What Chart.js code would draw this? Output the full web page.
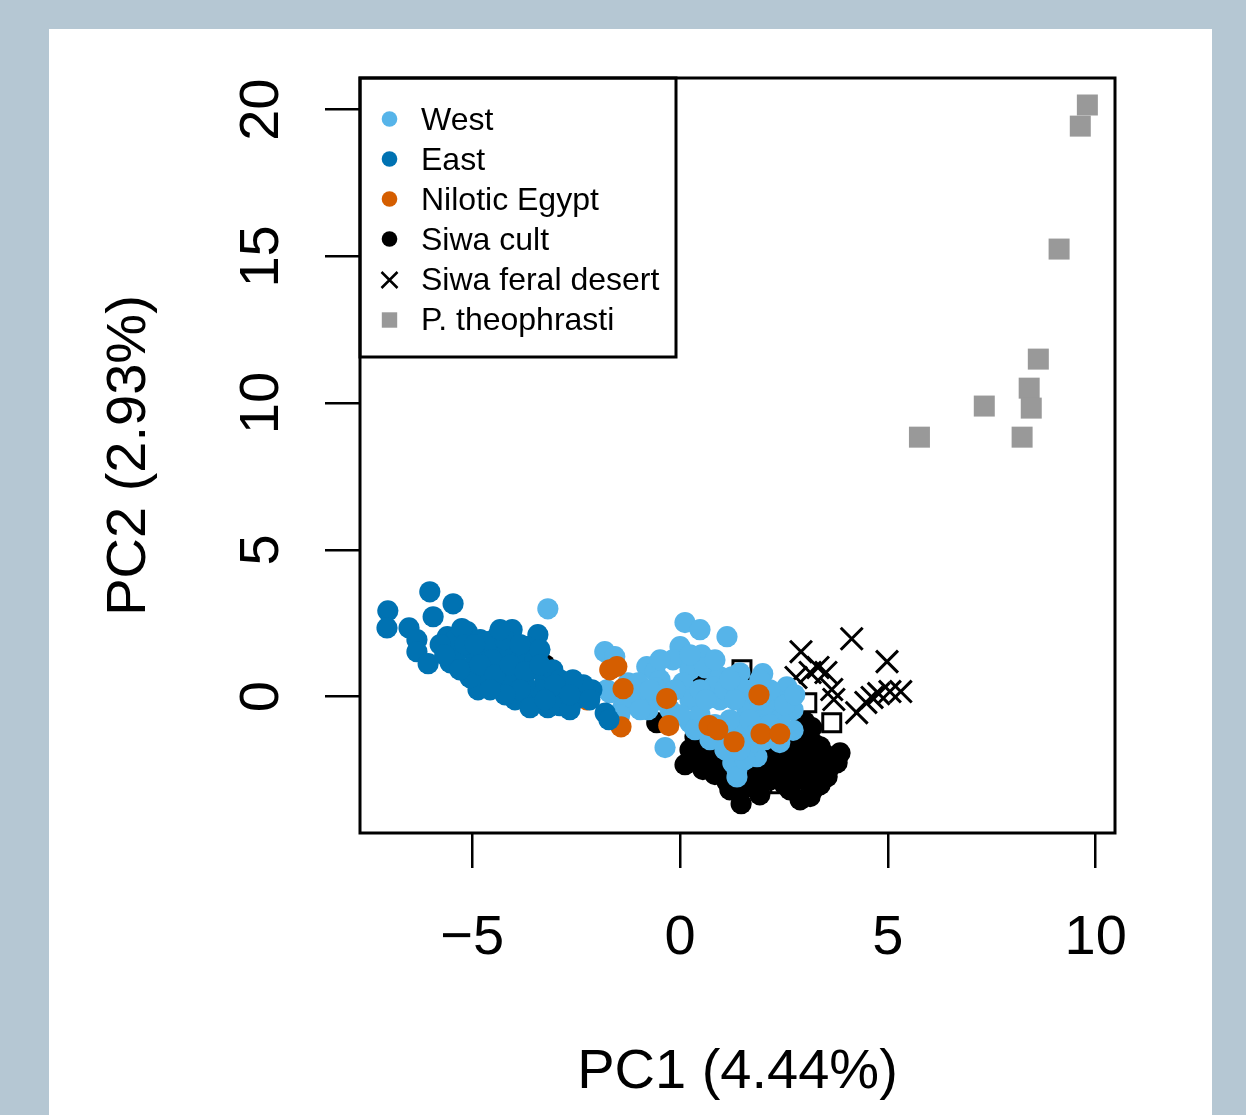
<!DOCTYPE html>
<html>
<head>
<meta charset="utf-8">
<script src="https://cdn.jsdelivr.net/npm/chart.js@4.4.1/dist/chart.umd.min.js"></script>
<style>
  html, body { margin:0; padding:0; background:#b5c7d3; overflow:hidden; }
  #panel { position:absolute; left:49px; top:29px; width:1163px; height:1086px; background:#fff; }
  #chart { position:absolute; left:0; top:0; }
</style>
</head>
<body>
<div id="panel"></div>
<canvas id="chart" width="1246" height="1115"></canvas>
<script>
const FONT = "'Liberation Sans', Arial, Helvetica, sans-serif";

// axes
const xTicks = [-5, 0, 5, 10];
const yTicks = [0, 5, 10, 15, 20];
const xTitle = 'PC1 (4.44%)';
const yTitle = 'PC2 (2.93%)';

// groups (PC1, PC2)
const westPts = [
  [-3.18,2.99],[-1.81,1.53],[-1.57,1.36],[-1.25,0.47],[-1.37,-0.35],[-1.69,0.13],[-0.80,1.02],[-0.60,0.85],
  [-0.89,0.00],[-0.48,-0.11],[-0.77,-0.45],[-0.36,-1.74],[0.12,2.52],[0.48,2.28],[1.13,2.04],[0.00,1.70],
  [0.52,1.42],[-0.17,1.25],[0.24,0.91],[0.60,0.98],[0.96,0.67],[1.25,0.67],[1.44,0.81],[1.99,0.78],
  [2.57,0.33],[2.72,-0.45],[2.72,-1.15],[2.40,-1.57],[1.85,-2.05],[1.37,-2.49],[1.27,-2.26],[1.37,-2.74],
  [0.24,-0.89],[0.07,0.47],[0.24,-0.11],[0.79,0.33],[0.96,-0.11],[1.03,-1.37],[1.44,-1.24],[1.61,-0.45],
  [2.09,-0.45],[1.75,0.13],[2.33,-0.11],[0.48,-0.62],[0.72,-1.47],[1.20,-0.79],[1.92,-0.96],[2.16,0.23],
  [-0.48,0.57],[-0.12,0.23],[0.48,0.23],[0.62,-0.11],[1.56,0.23],[1.92,-0.11],[2.40,-0.79],[1.68,-1.64],
  [1.08,-1.81],[1.56,-2.15],[0.84,-0.96],[-0.24,-0.45],[-0.60,0.30],[-1.21,-0.11],[-1.01,0.47],[-1.76,0.23],
  [-1.45,-0.62],[-0.72,0.23],[-0.48,1.25],[0.24,1.42],[0.84,1.25],[1.08,0.23],[1.32,-0.11],[1.68,-0.79],
  [2.04,-1.47],[1.44,-1.81],[1.80,-1.30],[2.16,-0.96],[2.52,-0.28],[2.76,0.06],[1.20,0.57],[1.92,0.57],
  [0.00,-0.62],[0.36,-1.13],[-0.96,-0.45]
];
const eastPts = [
  [-7.03,2.92],[-7.05,2.34],[-6.52,2.34],[-6.02,3.57],[-5.46,3.16],[-5.94,2.72],[-6.33,1.94],[-6.33,1.53],
  [-6.06,1.12],[-5.60,2.04],[-5.12,2.21],[-4.81,1.94],[-4.40,2.04],[-4.04,2.28],[-3.42,2.11],[-3.68,1.70],
  [-4.86,0.23],[-3.97,-0.11],[-3.61,0.00],[-5.53,1.15],[-5.29,1.60],[-4.93,1.43],[-4.57,1.60],[-4.21,1.43],
  [-3.85,1.25],[-5.05,0.98],[-4.69,0.74],[-4.33,0.98],[-3.97,0.74],[-3.61,0.91],[-3.25,0.64],[-4.38,0.40],
  [-3.37,0.23],[-3.01,0.06],[-3.18,-0.38],[-2.89,-0.31],[-2.53,-0.11],[-2.77,0.30],[-2.41,0.30],[-2.12,0.23],
  [-1.80,-0.56],[-1.71,-0.79],[-2.65,-0.45],[-2.33,0.40],[-3.06,0.91],[-5.41,1.94],[-5.77,1.77],[-5.25,2.32],
  [-4.62,1.87],[-4.21,1.94],[-3.85,1.77],[-5.41,1.25],[-4.52,1.25],[-3.49,1.25],[-4.09,0.40],[-3.73,0.40],
  [-5.05,0.64],[-3.37,1.60],[-2.89,0.57],[-2.58,0.57],[-5.66,1.42],[-5.30,0.91],[-4.81,1.08],[-4.45,0.74],
  [-4.09,1.08],[-3.73,0.85],[-3.37,1.08],[-3.01,0.40],[-2.65,0.06],[-3.85,0.23],[-4.21,0.06],[-4.57,0.23],
  [-5.18,1.77],[-4.33,2.28],[-4.94,1.77],[-3.61,-0.38],[-2.17,-0.11],[-3.25,-0.11]
];
const niloticPts = [
  [-2.24,-0.11],[-1.69,0.91],[-1.52,1.02],[-1.37,0.27],[-1.42,-1.03],[-0.32,-0.07],[-0.27,-0.99],
  [0.70,-0.99],[0.91,-1.13],[1.30,-1.54],[1.90,0.06],[1.95,-1.27],[2.40,-1.27]
];
const siwaCultPts = [
  [-3.25,1.08],[-0.56,-0.89],[0.55,0.64],[0.65,0.37],[0.12,-2.32],[0.55,-2.49],[1.13,-2.90],[1.47,-3.65],
  [1.61,-3.07],[1.97,-2.94],[2.89,-3.52],[3.13,-3.41],[3.20,-3.18],[3.44,-2.60],[3.78,-2.26],[3.85,-1.92],
  [3.37,-1.71],[3.05,-1.47],[2.81,-2.05],[2.48,-2.26],[2.09,-2.39],[0.41,-1.71],[0.79,-1.71],[0.36,-1.37],
  [3.61,-2.39],[3.54,-2.73],[3.20,-2.73],[2.72,-2.73],[3.05,-1.92],[2.72,-2.15],[0.96,-2.15],[1.32,-2.32],
  [1.68,-2.49],[2.28,-2.66],[2.64,-3.18],[1.80,-1.81],[2.28,-1.81],[2.89,-2.49],[3.13,-2.32],[1.20,-1.81],
  [1.56,-1.98],[2.04,-1.98],[2.52,-1.88],[0.60,-1.98],[0.84,-2.66],[1.44,-3.18],[1.92,-3.35],[0.48,-1.47],
  [0.60,-1.13],[2.89,-1.47],[3.25,-1.64],[3.17,-1.06],[3.00,-0.86],[0.24,-1.81],[0.72,-2.32],[1.08,-2.49],
  [1.44,-2.66],[1.80,-2.84],[2.16,-2.84],[2.52,-3.01],[2.76,-2.49],[3.25,-2.15],[3.49,-1.98],[3.00,-2.84],
  [3.37,-3.01],[1.20,-3.18],[0.48,-2.15]
];
const siwaOtherPts = [
  [1.49,0.91],[3.05,-0.21],[3.65,-0.89],[2.40,-2.97]
];
const feralPts = [
  [2.91,1.53],[4.13,1.97],[4.98,1.19],[2.79,0.65],[3.13,0.82],[3.32,0.99],[3.51,0.82],[3.65,0.24],
  [3.70,-0.10],[4.25,-0.55],[4.47,-0.20],[4.62,-0.03],[4.78,0.10],[5.05,0.17],[5.31,0.17]
];
const theophrastiPts = [
  [9.80,20.16],[9.63,19.44],[9.12,15.25],[8.62,11.50],[8.40,10.51],[8.45,9.83],[7.32,9.90],[5.76,8.84],[8.23,8.84]
];

const legendLabels = ['West', 'East', 'Nilotic Egypt', 'Siwa cult', 'Siwa feral desert', 'P. theophrasti'];
const legendStyles = ['dot', 'dot', 'dot', 'dot', 'cross', 'square'];
const groupColors = ['#56B4E9', '#0072B2', '#D55E00', '#000000', '#000000', '#999999'];

const toXY = pts => pts.map(p => ({x: p[0], y: p[1]}));

function dotSet(label, pts, color, order){
  return {label, data: toXY(pts), pointStyle:'circle', pointRadius:10.6, pointHoverRadius:10.6,
    backgroundColor: color, borderColor: color, borderWidth: 0, order};
}

// box + legend
const boxLegend = {
  id: 'boxLegend',
  afterDatasetsDraw(chart){
    const {ctx, chartArea: a} = chart;
    ctx.save();
    ctx.lineWidth = 3;
    ctx.strokeStyle = '#000';
    ctx.strokeRect(a.left, a.top, a.right - a.left, a.bottom - a.top);
    ctx.strokeRect(a.left, a.top, 316, 279);
    ctx.font = '32px ' + FONT;
    ctx.textBaseline = 'middle';
    ctx.textAlign = 'left';
    legendLabels.forEach((lab, i) => {
      const y = a.top + 42 + i * 40;
      const x = a.left + 29.5;
      ctx.fillStyle = groupColors[i];
      ctx.strokeStyle = groupColors[i];
      if (legendStyles[i] === 'dot') {
        ctx.beginPath(); ctx.arc(x, y - 1, 7.8, 0, Math.PI * 2); ctx.fill();
      } else if (legendStyles[i] === 'cross') {
        ctx.lineWidth = 2.5;
        ctx.beginPath();
        ctx.moveTo(x - 8, y - 8); ctx.lineTo(x + 8, y + 8);
        ctx.moveTo(x + 8, y - 8); ctx.lineTo(x - 8, y + 8);
        ctx.stroke();
      } else {
        ctx.fillRect(x - 7.7, y - 7.7, 15.4, 15.4);
      }
      ctx.fillStyle = '#000';
      ctx.fillText(lab, a.left + 61, y + 1);
    });
    ctx.restore();
  }
};

new Chart(document.getElementById('chart'), {
  type: 'scatter',
  data: {
    datasets: [
      dotSet('West', westPts, groupColors[0], 2),
      dotSet('East', eastPts, groupColors[1], 0),
      dotSet('Nilotic Egypt', niloticPts, groupColors[2], 1),
      dotSet('Siwa cult', siwaCultPts, groupColors[3], 4),
      {label:'Siwa feral desert', data: toXY(feralPts), pointStyle:'crossRot', pointRadius:15.5, pointHoverRadius:15.5,
        borderColor:'#000', backgroundColor:'#000', borderWidth:3, order:5},
      {label:'P. theophrasti', data: toXY(theophrastiPts), pointStyle:'rect', pointRadius:14.85, pointHoverRadius:14.85,
        backgroundColor:'#999999', borderColor:'#999999', borderWidth:0, order:6},
      {label:'Siwa (other)', data: toXY(siwaOtherPts), pointStyle:'rect', pointRadius:12.7, pointHoverRadius:12.7,
        backgroundColor:'rgba(0,0,0,0)', borderColor:'#000', borderWidth:3, order:3}
    ]
  },
  options: {
    responsive: false,
    animation: false,
    events: [],
    layout: { padding: { left: 0, right: 131, top: 78, bottom: 0 } },
    plugins: { legend: { display: false }, tooltip: { enabled: false } },
    scales: {
      x: {
        type: 'linear', min: -7.70, max: 10.465,
        afterBuildTicks: s => { s.ticks = xTicks.map(v => ({value: v})); },
        afterFit: s => { s.height = 282; },
        border: { display: false },
        grid: { drawOnChartArea: false, drawTicks: true, tickLength: 35, color: '#000', lineWidth: 2.5 },
        ticks: { color: '#000', font: { family: FONT, size: 56 }, padding: 37, autoSkip: false, maxRotation: 0,
          callback: v => v < 0 ? '\u2212' + Math.abs(v) : String(v) },
        title: { display: true, text: xTitle, color: '#000', font: { family: FONT, size: 56 }, padding: { top: 0, bottom: 9 } }
      },
      y: {
        type: 'linear', min: -4.65, max: 21.08,
        afterBuildTicks: s => { s.ticks = yTicks.map(v => ({value: v})); },
        afterFit: s => { s.width = 360; },
        border: { display: false },
        grid: { drawOnChartArea: false, drawTicks: true, tickLength: 35, color: '#000', lineWidth: 2.5 },
        ticks: { color: '#000', font: { family: FONT, size: 56 }, padding: 31, autoSkip: false,
          minRotation: 90, maxRotation: 90, crossAlign: 'center' },
        title: { display: true, text: yTitle, color: '#000', font: { family: FONT, size: 56 }, padding: { top: 96, bottom: 0 } }
      }
    }
  },
  plugins: [boxLegend]
});
</script>
</body>
</html>
